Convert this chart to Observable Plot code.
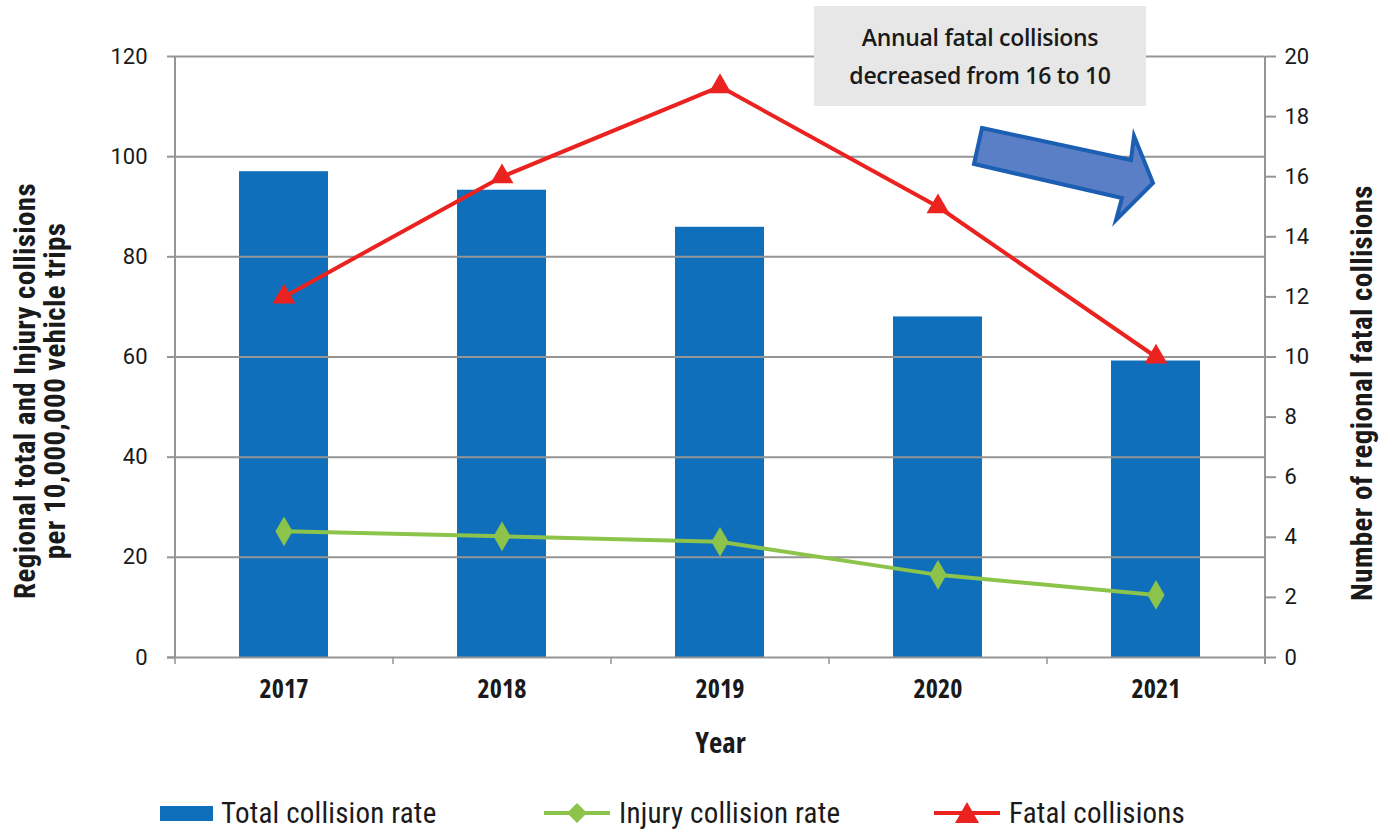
<!DOCTYPE html>
<html>
<head>
<meta charset="utf-8">
<script src="https://cdn.jsdelivr.net/npm/d3@7"></script>
<script src="https://cdn.jsdelivr.net/npm/@observablehq/plot@0.6"></script>
<style>
  html, body { margin: 0; padding: 0; background: #fff; }
  body { width: 1390px; height: 830px; position: relative; overflow: hidden;
         font-family: "Roboto Condensed", sans-serif; }
  #chart { position: absolute; left: 0; top: 0; }
  .note { position: absolute; left: 814px; top: 6px; width: 332px; height: 100px; background: #e7e7e7;
          display: flex; flex-direction: column; justify-content: center; align-items: center;
          font-family: "Open Sans", sans-serif; font-weight: 600; font-size: 23px;
          letter-spacing: -0.3px; line-height: 38px; color: #1a1a1a; }
  #arrow { position: absolute; left: 0; top: 0; pointer-events: none; }
  .legend { position: absolute; top: 796px; left: 0; width: 1390px; height: 34px; font-size: 29px; color: #1a1a1a;
            font-family: "Roboto Condensed", sans-serif; letter-spacing: 0.2px; }
  .item { position: absolute; top: 0; display: flex; align-items: center; height: 34px; }
  .item svg { margin-right: 7px; }
  svg .tick-lbl text { font-family: Roboto, sans-serif; }
  svg .cond-bold text { font-family: "Open Sans", sans-serif; font-stretch: condensed; font-weight: bold; }
  svg .title-txt text { font-family: "Roboto Condensed", sans-serif; font-weight: bold; letter-spacing: 0.4px; }
</style>
</head>
<body>
<div id="chart"></div>
<div class="note"><div>Annual fatal collisions</div><div>decreased from 16 to 10</div></div>
<svg id="arrow" width="1390" height="830"></svg>
<div class="legend" id="legend"></div>
<script>
// ---- data ----
const years = ["2017", "2018", "2019", "2020", "2021"];
const totalRate = [97, 93.3, 85.9, 68, 59.2];
const injuryRate = [25.2, 24.2, 23.1, 16.5, 12.5];
const fatalCollisions = [12, 16, 19, 15, 10];
const leftTicks = [0, 20, 40, 60, 80, 100, 120];
const rightTicks = [0, 2, 4, 6, 8, 10, 12, 14, 16, 18, 20];
const seriesNames = ["Total collision rate", "Injury collision rate", "Fatal collisions"];

const ratio = 120 / 20; // right axis (0-20) mapped onto left axis (0-120)
const rows = years.map((y, i) => ({year: y, total: totalRate[i], injury: injuryRate[i], fatal: fatalCollisions[i]}));

const BLUE = "#0f6fba", GREEN = "#8cc34b", RED = "#ea2320", GRID = "#959595", INK = "#1a1a1a";
const halfStep = 109;

const chart = Plot.plot({
  width: 1390,
  height: 780,
  marginTop: 56,
  marginBottom: 123,
  marginLeft: 175,
  marginRight: 125,
  style: {fontFamily: "Roboto, sans-serif", background: "transparent", color: INK},
  x: {type: "band", domain: years, paddingInner: 0.59, paddingOuter: 0.295, axis: null},
  y: {domain: [0, 120], axis: null},
  marks: [
    Plot.barY(rows, {x: "year", y: "total", fill: BLUE}),
    Plot.ruleY(leftTicks.filter(d => d > 0), {stroke: GRID, strokeWidth: 2}),
    Plot.ruleY([0], {stroke: GRID, strokeWidth: 2, insetLeft: -8}),
    // left & right axis lines
    Plot.ruleX([years[0]], {dx: -halfStep, y1: 0, y2: 120, stroke: GRID, strokeWidth: 2}),
    Plot.ruleX([years[years.length - 1]], {dx: halfStep, y1: -1.4, y2: 120, stroke: GRID, strokeWidth: 2}),
    // x boundary ticks
    Plot.ruleX(years, {dx: -halfStep, y1: 0, y2: -1.4, stroke: GRID, strokeWidth: 1.5}),
    // left axis
    Plot.axisY({anchor: "left", ticks: leftTicks, tickSize: 8, tickPadding: 20, fontSize: 22,
                stroke: GRID, strokeWidth: 2, label: null, className: "tick-lbl"}),
    // right axis (fatal collisions, 0-20)
    Plot.axisY({anchor: "right", ticks: rightTicks.map(d => d * ratio), tickFormat: d => d / ratio,
                tickSize: 10, tickPadding: 9, fontSize: 22, stroke: GRID, strokeWidth: 2, label: null,
                className: "tick-lbl"}),
    // x axis labels
    Plot.axisX({domain: years, tickSize: 0, tickPadding: 22, fontSize: 26, label: null, className: "cond-bold"}),
    // injury line
    Plot.lineY(rows, {x: "year", y: "injury", stroke: GREEN, strokeWidth: 4}),
    Plot.dot(rows, {x: "year", y: "injury", symbol: "diamond", r: 9, fill: GREEN, stroke: null}),
    // fatal line
    Plot.lineY(rows, {x: "year", y: d => d.fatal * ratio, stroke: RED, strokeWidth: 4}),
    Plot.dot(rows, {x: "year", y: d => d.fatal * ratio, symbol: "triangle", r: 8.5, fill: RED, stroke: null}),
    // axis titles
    Plot.text(["Regional total and Injury collisions\nper 10,000,000 vehicle trips"],
      {frameAnchor: "left", textAnchor: "middle", dx: -135, dy: 34, rotate: -90, fontSize: 29,
       lineHeight: 1.05, fill: INK, className: "title-txt"}),
    Plot.text(["Number of regional fatal collisions"],
      {frameAnchor: "right", textAnchor: "middle", dx: 97, dy: 36, rotate: -90, fontSize: 29,
       fill: INK, className: "title-txt"}),
    Plot.text(["Year"], {frameAnchor: "bottom", textAnchor: "middle", dy: 95, fontSize: 29, fill: INK, className: "cond-bold"})
  ]
});
document.getElementById("chart").appendChild(chart);

// decorative block arrow
d3.select("#arrow").append("polygon")
  .attr("points", "982,128 1131,160 1134,136 1153,183 1116,220 1122,198 974,164")
  .attr("fill", "#5a7fc6").attr("stroke", "#1c5fb2").attr("stroke-width", 4).attr("stroke-linejoin", "miter");

// legend
const legend = document.getElementById("legend");
const items = [
  {left: 160, name: seriesNames[0], sw: `<svg width="54" height="34"><rect x="0" y="10" width="53" height="15" fill="${BLUE}"/></svg>`},
  {left: 544, name: seriesNames[1], sw: `<svg width="68" height="34"><line x1="0" y1="17" x2="66" y2="17" stroke="${GREEN}" stroke-width="4"/><path d="M33,7 L43,17 L33,27 L23,17 Z" fill="${GREEN}"/></svg>`},
  {left: 934, name: seriesNames[2], sw: `<svg width="68" height="34"><line x1="0" y1="17" x2="66" y2="17" stroke="${RED}" stroke-width="4"/><path d="M33,6 L45,27 L21,27 Z" fill="${RED}"/></svg>`}
];
for (const it of items) {
  const d = document.createElement("div");
  d.className = "item";
  d.style.left = it.left + "px";
  d.innerHTML = it.sw + `<span>${it.name}</span>`;
  legend.appendChild(d);
}
</script>
</body>
</html>
